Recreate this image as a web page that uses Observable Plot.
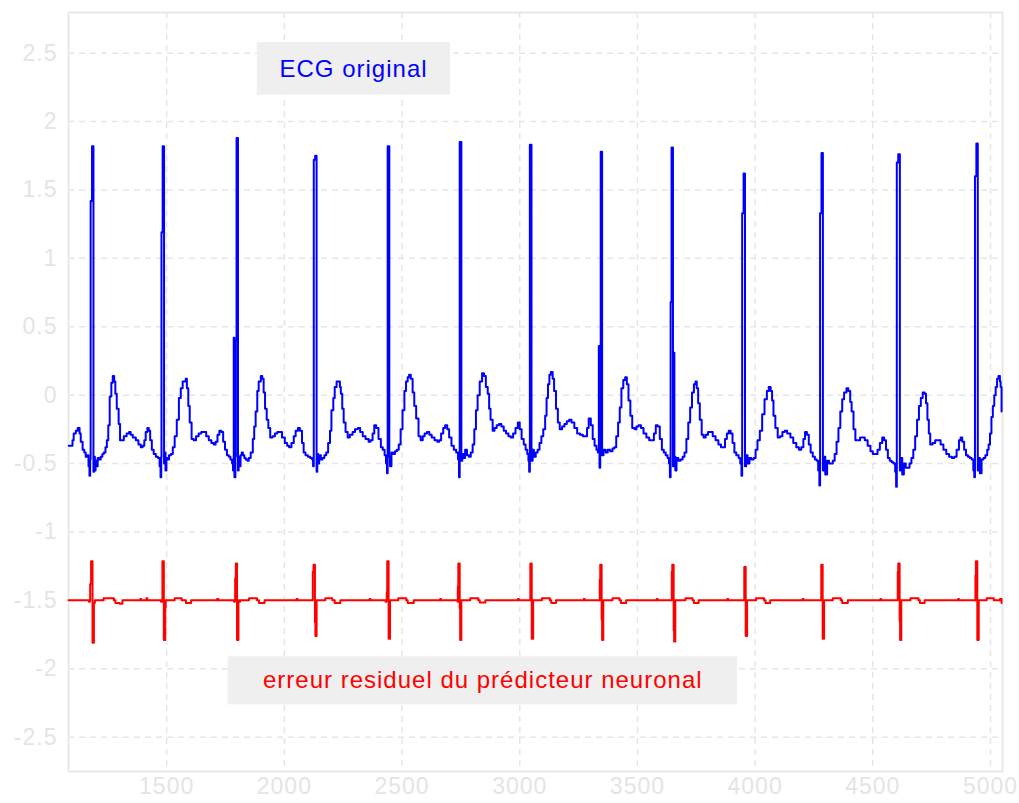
<!DOCTYPE html>
<html>
<head>
<meta charset="utf-8">
<script src="https://cdn.jsdelivr.net/npm/d3@7"></script>
<script src="https://cdn.jsdelivr.net/npm/@observablehq/plot@0.6"></script>
<style>
  html, body { margin: 0; padding: 0; background: #ffffff; }
  #chart svg text { letter-spacing: 1px; }
</style>
</head>
<body>
<div id="chart"></div>
<script>
// ---- Axis ticks ----
const xTicks = [1500, 2000, 2500, 3000, 3500, 4000, 4500, 5000];
const yTicks = [2.5, 2, 1.5, 1, 0.5, 0, -0.5, -1, -1.5, -2, -2.5];

// ---- ECG original: [sample index, amplitude], one line per beat ----
const ecgPoints = [
[1084,-0.37],[1092,-0.37],[1100,-0.33],[1105,-0.28],[1114,-0.26],[1122,-0.24],[1130,-0.28],[1135,-0.34],[1143,-0.40],[1150,-0.42],[1156,-0.45],[1163,-0.44],[1168,-0.52],[1172,-0.59],[1175,-0.47],[1177,1.42],[1183,1.82],[1189,-0.56],[1192,-0.45],[1195,-0.55],[1198,-0.48],[1202,-0.52],[1207,-0.46],[1214,-0.47],[1220,-0.45],[1227,-0.43],[1233,-0.42],[1240,-0.38],[1246,-0.33],[1252,-0.22],[1258,-0.01],[1265,0.09],[1271,0.14],[1277,0.10],[1282,0.01],[1288,-0.10],[1296,-0.21],[1302,-0.33],[1310,-0.33],[1318,-0.30],[1330,-0.28],[1340,-0.27],[1347,-0.29],[1356,-0.31],[1369,-0.33],[1380,-0.36],[1390,-0.38],[1398,-0.37],[1405,-0.33],[1411,-0.27],[1418,-0.24],[1424,-0.26],[1430,-0.33],[1437,-0.40],[1445,-0.43],[1454,-0.45],[1463,-0.46],
[1470,-0.52],[1474,-0.60],[1477,-0.45],[1478,1.19],[1483,1.82],[1489,-0.50],[1492,-0.42],[1495,-0.55],[1499,-0.46],[1504,-0.47],[1510,-0.44],[1518,-0.43],[1526,-0.38],[1534,-0.30],[1543,-0.18],[1552,-0.02],[1560,0.05],[1568,0.10],[1581,0.12],[1586,0.05],[1592,-0.08],[1598,-0.20],[1606,-0.32],[1615,-0.33],[1625,-0.30],[1636,-0.28],[1647,-0.27],[1657,-0.27],[1668,-0.30],[1679,-0.33],[1690,-0.35],[1700,-0.36],[1708,-0.34],[1716,-0.29],[1724,-0.26],[1732,-0.27],[1740,-0.34],[1748,-0.40],[1756,-0.44],[1764,-0.45],[1771,-0.47],[1778,-0.50],
[1782,-0.55],[1785,0.42],[1788,-0.60],[1792,-0.45],[1794,0.40],[1797,1.88],[1803,-0.55],[1806,-0.45],[1809,-0.52],[1814,-0.44],[1819,-0.42],[1824,-0.44],[1830,-0.46],[1836,-0.47],[1843,-0.48],[1849,-0.46],[1857,-0.42],[1866,-0.32],[1872,-0.23],[1878,-0.12],[1885,0.03],[1891,0.10],[1900,0.14],[1906,0.12],[1912,0.02],[1918,-0.10],[1925,-0.18],[1932,-0.24],[1940,-0.31],[1950,-0.30],[1960,-0.28],[1970,-0.27],[1978,-0.27],[1990,-0.31],[2002,-0.35],[2012,-0.37],[2020,-0.38],[2030,-0.35],[2040,-0.30],[2048,-0.26],[2058,-0.24],[2066,-0.26],[2075,-0.35],[2082,-0.42],[2090,-0.44],[2100,-0.45],[2110,-0.46],[2118,-0.47],
[2122,-0.52],[2125,1.72],[2131,1.75],[2137,-0.56],[2140,-0.43],[2144,-0.50],[2148,-0.44],[2155,-0.47],[2162,-0.46],[2170,-0.44],[2178,-0.42],[2186,-0.35],[2194,-0.26],[2200,-0.11],[2208,-0.02],[2214,0.06],[2222,0.10],[2231,0.10],[2236,0.06],[2240,0.01],[2246,-0.10],[2252,-0.20],[2260,-0.27],[2269,-0.31],[2278,-0.29],[2290,-0.27],[2300,-0.25],[2312,-0.24],[2322,-0.27],[2333,-0.30],[2345,-0.32],[2358,-0.34],[2366,-0.33],[2375,-0.28],[2382,-0.22],[2390,-0.24],[2400,-0.32],[2410,-0.38],[2418,-0.40],[2426,-0.44],[2432,-0.50],
[2436,-0.57],[2439,1.82],[2446,-0.45],[2449,-0.52],[2455,-0.42],[2462,-0.43],[2470,-0.41],[2478,-0.40],[2486,-0.36],[2494,-0.25],[2502,-0.11],[2510,0.03],[2517,0.10],[2524,0.13],[2530,0.15],[2537,0.12],[2545,0.02],[2552,-0.08],[2560,-0.17],[2570,-0.30],[2579,-0.33],[2588,-0.30],[2596,-0.28],[2606,-0.27],[2616,-0.29],[2626,-0.31],[2638,-0.33],[2650,-0.34],[2658,-0.33],[2666,-0.28],[2675,-0.24],[2683,-0.22],[2692,-0.25],[2700,-0.31],[2710,-0.37],[2720,-0.40],[2730,-0.42],[2738,-0.47],
[2742,-0.60],[2745,1.85],[2752,-0.48],[2756,-0.43],[2762,-0.46],[2768,-0.40],[2776,-0.44],[2784,-0.45],[2792,-0.42],[2800,-0.36],[2807,-0.25],[2814,-0.11],[2821,0.00],[2830,0.10],[2840,0.16],[2848,0.14],[2856,0.06],[2864,0.01],[2870,-0.10],[2876,-0.18],[2885,-0.26],[2893,-0.24],[2902,-0.22],[2912,-0.21],[2922,-0.23],[2932,-0.26],[2942,-0.28],[2952,-0.30],[2962,-0.31],[2972,-0.28],[2982,-0.24],[2992,-0.20],[3000,-0.25],[3008,-0.32],[3017,-0.36],[3025,-0.40],[3032,-0.43],[3037,-0.48],
[3040,-0.56],[3043,1.83],[3050,-0.48],[3055,-0.40],[3060,-0.45],[3068,-0.42],[3076,-0.40],[3084,-0.35],[3092,-0.30],[3100,-0.25],[3108,-0.15],[3114,-0.02],[3120,0.08],[3126,0.15],[3132,0.17],[3140,0.12],[3146,0.03],[3154,-0.10],[3162,-0.20],[3170,-0.25],[3180,-0.23],[3190,-0.21],[3200,-0.19],[3210,-0.18],[3220,-0.20],[3232,-0.24],[3244,-0.28],[3256,-0.29],[3268,-0.30],[3278,-0.30],[3286,-0.24],[3293,-0.17],[3302,-0.22],[3310,-0.32],[3318,-0.37],[3326,-0.40],[3332,-0.42],
[3336,0.36],[3339,-0.53],[3342,-0.42],[3344,1.78],[3350,-0.44],[3356,-0.40],[3365,-0.42],[3374,-0.40],[3384,-0.41],[3394,-0.39],[3402,-0.38],[3410,-0.30],[3418,-0.20],[3425,-0.09],[3432,0.05],[3440,0.11],[3448,0.13],[3455,0.08],[3462,-0.04],[3470,-0.15],[3478,-0.24],[3488,-0.25],[3496,-0.23],[3505,-0.22],[3515,-0.24],[3526,-0.28],[3538,-0.31],[3550,-0.33],[3560,-0.33],[3570,-0.28],[3578,-0.22],[3586,-0.23],[3595,-0.32],[3604,-0.40],[3612,-0.42],[3620,-0.44],[3628,-0.46],[3634,-0.50],
[3638,-0.60],[3641,0.68],[3645,1.81],[3651,-0.52],[3654,0.31],[3657,-0.45],[3661,-0.55],[3666,-0.46],[3674,-0.48],[3683,-0.47],[3692,-0.45],[3700,-0.42],[3708,-0.32],[3716,-0.20],[3724,-0.09],[3732,0.02],[3740,0.08],[3747,0.10],[3752,0.05],[3758,-0.06],[3765,-0.18],[3773,-0.29],[3781,-0.31],[3790,-0.29],[3800,-0.27],[3810,-0.27],[3820,-0.30],[3832,-0.33],[3844,-0.36],[3855,-0.38],[3862,-0.38],[3872,-0.32],[3880,-0.28],[3888,-0.26],[3896,-0.28],[3904,-0.35],[3912,-0.42],[3920,-0.44],[3930,-0.46],[3937,-0.50],
[3942,-0.59],[3945,1.33],[3951,1.62],[3957,-0.52],[3962,-0.44],[3968,-0.50],[3976,-0.46],[3984,-0.47],[3994,-0.46],[4002,-0.40],[4010,-0.33],[4020,-0.26],[4030,-0.14],[4040,-0.03],[4050,0.03],[4058,0.06],[4066,0.03],[4072,-0.04],[4078,-0.15],[4086,-0.24],[4096,-0.31],[4106,-0.30],[4116,-0.27],[4126,-0.26],[4136,-0.28],[4150,-0.31],[4162,-0.35],[4175,-0.38],[4186,-0.40],[4196,-0.38],[4205,-0.32],[4212,-0.27],[4220,-0.29],[4228,-0.36],[4236,-0.42],[4245,-0.45],[4254,-0.47],[4262,-0.48],[4268,-0.55],
[4273,-0.66],[4276,1.33],[4282,1.77],[4288,-0.55],[4292,-0.45],[4298,-0.58],[4306,-0.48],[4314,-0.50],[4322,-0.50],[4330,-0.48],[4338,-0.43],[4346,-0.34],[4354,-0.24],[4362,-0.12],[4370,-0.03],[4378,0.02],[4388,0.05],[4396,0.03],[4404,-0.05],[4410,-0.12],[4418,-0.25],[4426,-0.33],[4436,-0.33],[4446,-0.31],[4456,-0.31],[4466,-0.33],[4478,-0.37],[4490,-0.41],[4500,-0.43],[4510,-0.43],[4520,-0.40],[4530,-0.35],[4540,-0.31],[4548,-0.33],[4556,-0.40],[4564,-0.46],[4572,-0.48],[4580,-0.49],[4588,-0.50],[4595,-0.56],
[4599,-0.67],[4602,1.70],[4608,1.76],[4615,-0.55],[4619,-0.46],[4625,-0.58],[4632,-0.50],[4640,-0.53],[4648,-0.53],[4656,-0.50],[4664,-0.46],[4672,-0.40],[4680,-0.30],[4688,-0.18],[4696,-0.08],[4704,-0.02],[4712,0.02],[4720,0.01],[4726,-0.06],[4732,-0.18],[4738,-0.28],[4744,-0.36],[4754,-0.35],[4765,-0.33],[4776,-0.33],[4788,-0.36],[4800,-0.40],[4812,-0.43],[4824,-0.45],[4836,-0.46],[4846,-0.45],[4856,-0.40],[4866,-0.33],[4873,-0.31],[4880,-0.34],[4888,-0.40],[4896,-0.44],[4904,-0.45],[4912,-0.46],[4920,-0.47],[4927,-0.55],
[4931,-0.60],[4934,1.60],[4940,1.84],[4946,-0.55],[4950,-0.46],[4955,-0.57],[4962,-0.47],[4970,-0.46],[4978,-0.44],[4986,-0.40],[4992,-0.36],[4998,-0.28],[5004,-0.16],[5010,-0.08],[5016,0.00],[5022,0.06],[5028,0.12],[5034,0.14],[5040,0.10],[5043,0.06],[5047,-0.12]
];

// ---- Residual error of the neural predictor: [sample index, value] ----
const errPoints = [
[1083,-1.50],[1168,-1.50],[1170,-1.51],[1174,-1.50],[1175,-1.38],[1179,-1.215],[1185,-1.81],[1191,-1.52],[1195,-1.50],[1228,-1.50],[1232,-1.485],[1272,-1.485],[1276,-1.50],[1282,-1.52],[1300,-1.525],[1312,-1.50],[1386,-1.50],[1388,-1.49],[1392,-1.50],[1412,-1.50],[1414,-1.485],[1418,-1.50],
[1470,-1.50],[1476,-1.51],[1480,-1.50],[1482,-1.215],[1488,-1.79],[1494,-1.55],[1496,-1.50],[1530,-1.50],[1534,-1.485],[1560,-1.485],[1564,-1.50],[1578,-1.50],[1582,-1.52],[1600,-1.52],[1604,-1.50],[1712,-1.50],[1714,-1.49],[1720,-1.50],
[1784,-1.50],[1786,-1.51],[1790,-1.50],[1791,-1.34],[1794,-1.23],[1799,-1.79],[1805,-1.50],[1808,-1.51],[1812,-1.50],[1845,-1.50],[1850,-1.485],[1880,-1.485],[1884,-1.50],[1892,-1.52],[1912,-1.52],[1916,-1.50],[2050,-1.50],[2052,-1.49],[2056,-1.50],
[2120,-1.50],[2121,-1.29],[2124,-1.24],[2130,-1.66],[2132,-1.76],[2137,-1.50],[2170,-1.50],[2174,-1.485],[2200,-1.485],[2204,-1.50],[2214,-1.52],[2234,-1.52],[2238,-1.50],[2360,-1.50],[2362,-1.49],[2366,-1.50],
[2425,-1.50],[2430,-1.51],[2434,-1.50],[2435,-1.44],[2437,-1.215],[2443,-1.78],[2449,-1.50],[2480,-1.50],[2484,-1.485],[2514,-1.485],[2518,-1.50],[2524,-1.52],[2546,-1.52],[2550,-1.50],[2660,-1.50],[2662,-1.49],[2666,-1.50],
[2730,-1.50],[2736,-1.51],[2737,-1.40],[2739,-1.23],[2745,-1.56],[2747,-1.79],[2752,-1.50],[2786,-1.50],[2790,-1.485],[2820,-1.485],[2824,-1.50],[2830,-1.515],[2850,-1.515],[2854,-1.50],[2990,-1.50],[2992,-1.49],[2996,-1.50],
[3036,-1.50],[3045,-1.23],[3051,-1.78],[3057,-1.50],[3090,-1.50],[3094,-1.485],[3124,-1.485],[3128,-1.50],[3134,-1.52],[3150,-1.52],[3154,-1.50],[3270,-1.50],[3272,-1.49],[3276,-1.50],
[3330,-1.50],[3340,-1.35],[3342,-1.24],[3348,-1.64],[3350,-1.79],[3355,-1.50],[3390,-1.50],[3394,-1.485],[3420,-1.485],[3424,-1.50],[3430,-1.52],[3448,-1.52],[3452,-1.50],[3580,-1.50],[3582,-1.49],[3586,-1.50],
[3640,-1.50],[3646,-1.29],[3648,-1.24],[3654,-1.72],[3656,-1.80],[3661,-1.50],[3700,-1.50],[3704,-1.485],[3730,-1.485],[3734,-1.50],[3740,-1.52],[3756,-1.52],[3760,-1.50],[3880,-1.50],[3882,-1.49],[3886,-1.50],
[3945,-1.50],[3954,-1.257],[3960,-1.76],[3966,-1.50],[4000,-1.50],[4004,-1.485],[4034,-1.485],[4038,-1.50],[4044,-1.52],[4060,-1.52],[4064,-1.50],[4200,-1.50],[4202,-1.49],[4206,-1.50],
[4270,-1.50],[4281,-1.24],[4287,-1.78],[4293,-1.50],[4326,-1.50],[4330,-1.485],[4360,-1.485],[4364,-1.50],[4370,-1.52],[4390,-1.52],[4394,-1.50],[4530,-1.50],[4532,-1.49],[4536,-1.50],
[4600,-1.50],[4606,-1.29],[4608,-1.23],[4614,-1.65],[4616,-1.79],[4621,-1.50],[4656,-1.50],[4660,-1.485],[4690,-1.485],[4694,-1.50],[4700,-1.52],[4716,-1.52],[4720,-1.50],[4860,-1.50],[4862,-1.49],[4866,-1.50],
[4930,-1.50],[4936,-1.32],[4938,-1.215],[4944,-1.79],[4950,-1.50],[4980,-1.50],[4984,-1.485],[5010,-1.485],[5014,-1.50],[5030,-1.50],[5040,-1.49],[5047,-1.52]
];

// ---- Annotation boxes ----
const labelText  = ["ECG original", "erreur residuel du prédicteur neuronal"];
const labelColor = ["#0000ff", "#ff0000"];
const labelX     = [2294, 2843];
const labelY     = [2.385, -2.088];
const boxX1      = [1885, 1761];
const boxX2      = [2706, 3925];
const boxY1      = [2.193, -2.264];
const boxY2      = [2.578, -1.913];

const ecg = ecgPoints.map(([x, y]) => ({x, y}));
const err = errPoints.map(([x, y]) => ({x, y}));
const labels = labelText.map((t, i) => ({
  t, c: labelColor[i], x: labelX[i], y: labelY[i],
  x1: boxX1[i], x2: boxX2[i], y1: boxY1[i], y2: boxY2[i]
}));

const gridColor = "#e6e6e6";
const tickColor = "#e4e4e4";
const fmt = d => String(d);

const chart = Plot.plot({
  width: 1019,
  height: 803,
  marginLeft: 68,
  marginRight: 17,
  marginTop: 12,
  marginBottom: 32,
  style: {fontFamily: "'Liberation Sans', Arial, sans-serif", background: "#ffffff"},
  x: {domain: [1083, 5051]},
  y: {domain: [-2.751, 2.797]},
  marks: [
    Plot.gridX({ticks: xTicks, stroke: gridColor, strokeOpacity: 1, strokeWidth: 1.5, strokeDasharray: "6,5"}),
    Plot.gridY({ticks: yTicks, stroke: gridColor, strokeOpacity: 1, strokeWidth: 1.5, strokeDasharray: "6,5"}),
    Plot.frame({stroke: "#e8e8e8", strokeWidth: 2}),
    Plot.axisX({ticks: xTicks, tickSize: 0, tickPadding: 6, fontSize: 23, color: tickColor, tickFormat: fmt, label: null}),
    Plot.axisY({ticks: yTicks, tickSize: 0, tickPadding: 11, fontSize: 23, color: tickColor, tickFormat: fmt, label: null}),
    Plot.rect(labels, {x1: "x1", x2: "x2", y1: "y1", y2: "y2", fill: "#efefef"}),
    Plot.text(labels, {x: "x", y: "y", text: "t", fill: "c", fontSize: 24, textAnchor: "middle", lineAnchor: "middle"}),
    Plot.line(ecg, {x: "x", y: "y", stroke: "#0000ff", strokeWidth: 2, curve: "step-after"}),
    Plot.line(err, {x: "x", y: "y", stroke: "#ff0000", strokeWidth: 2, curve: "step-after"})
  ]
});

document.getElementById("chart").appendChild(chart);
</script>
</body>
</html>
